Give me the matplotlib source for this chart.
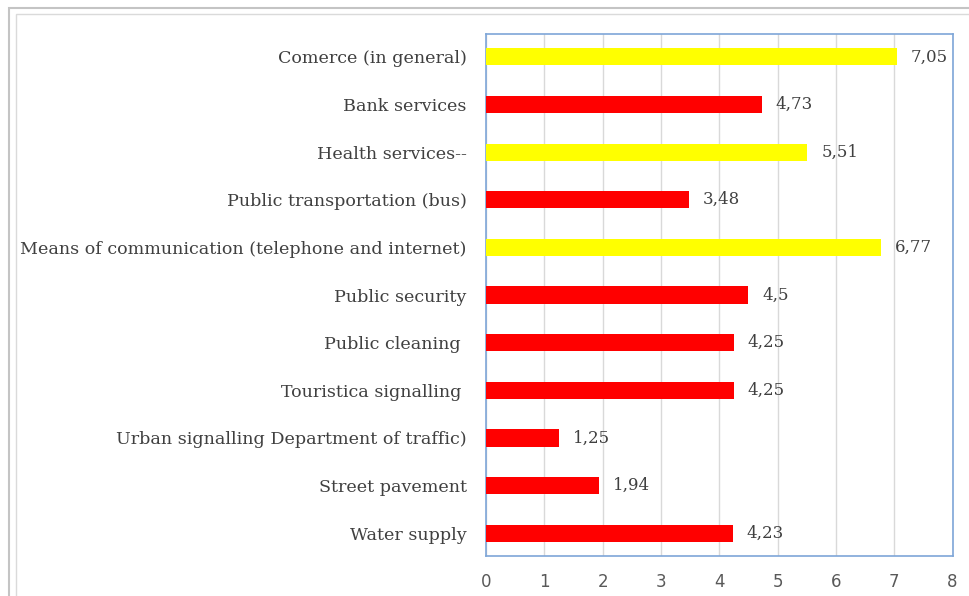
import matplotlib.pyplot as plt
from matplotlib.patches import Rectangle

categorias = [
    "Comerce (in general)",
    "Bank services",
    "Health services--",
    "Public transportation (bus)",
    "Means of communication (telephone and internet)",
    "Public security",
    "Public cleaning ",
    "Touristica signalling ",
    "Urban signalling Department of traffic)",
    "Street pavement",
    "Water supply",
]
valores = [7.05, 4.73, 5.51, 3.48, 6.77, 4.5, 4.25, 4.25, 1.25, 1.94, 4.23]
etiquetas = ["7,05", "4,73", "5,51", "3,48", "6,77", "4,5", "4,25", "4,25", "1,25", "1,94", "4,23"]
colores = ["#FFFF00", "#FF0000", "#FFFF00", "#FF0000", "#FFFF00", "#FF0000",
           "#FF0000", "#FF0000", "#FF0000", "#FF0000", "#FF0000"]

fig = plt.figure(figsize=(9.7, 5.96), dpi=100)
ax = fig.add_axes([0.501, 0.067, 0.481, 0.876])

# borde exterior gris (doble)
fig.patches.append(Rectangle((0.009, -0.02), 1.1, 1.0066, transform=fig.transFigure,
                             fill=False, edgecolor="#C4C4C4", linewidth=1.5))
fig.patches.append(Rectangle((0.0165, -0.02), 1.1, 0.9965, transform=fig.transFigure,
                             fill=False, edgecolor="#DADADA", linewidth=1.0))

pos = list(range(len(categorias)))[::-1]
ax.barh(pos, valores, height=0.36, color=colores, zorder=3)

for y, v, t in zip(pos, valores, etiquetas):
    ax.annotate(t, (v, y), xytext=(10, 0), textcoords="offset points",
                va="center", ha="left", fontsize=12,
                family="DejaVu Serif", color="#404040")

ax.set_xlim(0, 8)
ax.set_ylim(-0.48, 10.48)
ax.set_xticks(range(9))
ax.set_yticks(pos)
ax.set_yticklabels(categorias, family="DejaVu Serif", fontsize=12.6, color="#404040")
ax.tick_params(axis="y", length=0, pad=14)
ax.tick_params(axis="x", length=0, pad=12, labelsize=12, labelcolor="#595959")
ax.grid(axis="x", color="#D9D9D9", linewidth=1, zorder=0)
for s in ax.spines.values():
    s.set_color("#7EA6D8")
    s.set_linewidth(1.2)

fig.savefig("out.png", dpi=100)
